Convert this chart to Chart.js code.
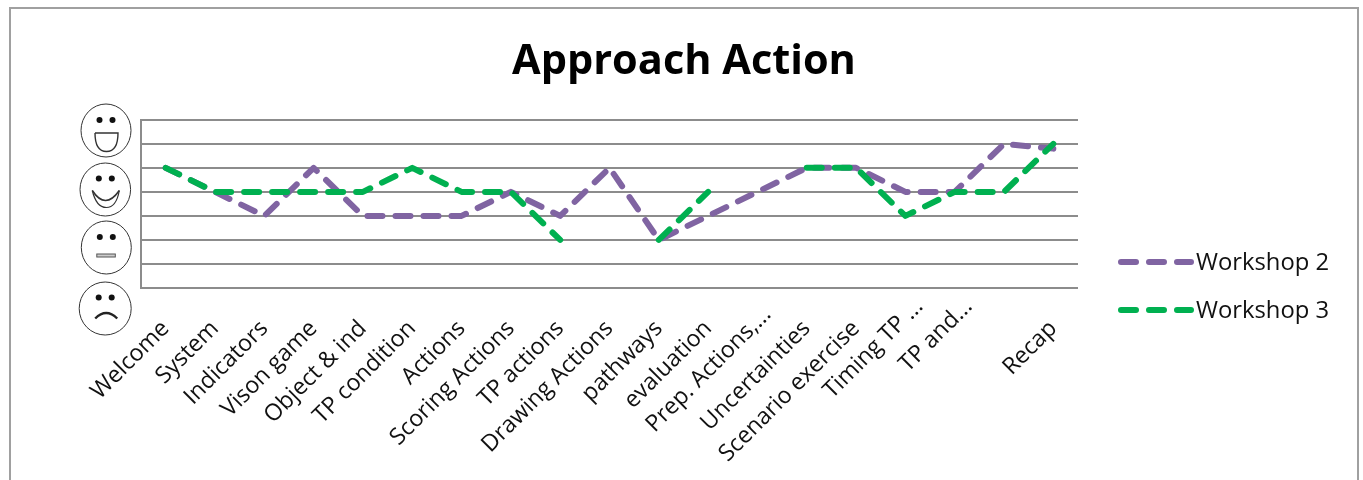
<!DOCTYPE html>
<html>
<head>
<meta charset="utf-8">
<title>Approach Action</title>
<script src="https://cdn.jsdelivr.net/npm/chart.js@4"></script>
<style>
    body { margin: 0; background: #fff; overflow: hidden; }
    #frame { position: absolute; left: 9px; top: 7px; width: 1346px; height: 500px; border: 2px solid #a0a0a0; }
    #myChart { position: absolute; left: 0; top: 0; }
</style>
</head>
<body>
<div id="frame"></div>
<canvas id="myChart" width="1363" height="480"></canvas>
<script>
const categories = ['Welcome', 'System', 'Indicators', 'Vison game', 'Object & ind', 'TP condition', 'Actions',
    'Scoring Actions', 'TP actions', 'Drawing Actions', 'pathways', 'evaluation', 'Prep. Actions,...',
    'Uncertainties', 'Scenario exercise', 'Timing TP ...', 'TP and...', '', 'Recap'];
const workshop2 = [5, 4, 3, 5, 3, 3, 3, 4, 3, 5, 2, 3, 4, 5, 5, 4, 4, 6, 5.8];
const workshop3 = [5, 4, 4, 4, 4, 5, 4, 4, 2, null, 2, 4, null, 5, 5, 3, 4, 4, 6];

const purple = '#8064A2';
const green = '#00B050';
const gridColor = '#8c8c8c';
const textColor = '#111';
const labelFont = '"Open Sans", sans-serif';

// smiley scale next to the y axis, happiest on top
function drawFace(ctx, cx, cy, rx, ry, eyeY, mouth) {
    ctx.save();
    ctx.translate(cx, cy);
    ctx.strokeStyle = '#333';
    ctx.lineWidth = 1;
    ctx.beginPath();
    ctx.ellipse(0, 0, rx, ry, 0, 0, Math.PI * 2);
    ctx.stroke();
    ctx.fillStyle = '#111';
    [-6.5, 6.5].forEach(function (x) {
        ctx.beginPath();
        ctx.arc(x, eyeY, 3, 0, Math.PI * 2);
        ctx.fill();
    });
    mouth(ctx);
    ctx.restore();
}

const facesPlugin = {
    id: 'faces',
    afterDraw: function (chart) {
        const ctx = chart.ctx;
        drawFace(ctx, 106, 130.5, 25, 26.5, -10.5, function (c) {
            c.lineWidth = 1.4;
            c.beginPath();
            c.moveTo(-11, 2.5);
            c.lineTo(12, 2.5);
            c.bezierCurveTo(12, 15, 8, 21, 0.5, 21);
            c.bezierCurveTo(-7, 21, -11, 15, -11, 2.5);
            c.stroke();
        });
        drawFace(ctx, 105.3, 189.5, 25.3, 26.5, -11, function (c) {
            c.lineWidth = 1.2;
            c.beginPath();
            c.moveTo(-13, 1);
            c.quadraticCurveTo(-9, 18, 1, 18);
            c.quadraticCurveTo(11, 18, 14, 1);
            c.stroke();
            c.lineWidth = 1.6;
            c.beginPath();
            c.moveTo(-13, 1);
            c.quadraticCurveTo(0, 21, 14, 1);
            c.stroke();
        });
        drawFace(ctx, 106.3, 247.5, 25, 26.5, -10.5, function (c) {
            c.lineWidth = 1;
            c.strokeStyle = '#555';
            c.fillStyle = '#ccc';
            c.fillRect(-9.5, 6.5, 18.5, 3);
            c.strokeRect(-9.5, 6.5, 18.5, 3);
        });
        drawFace(ctx, 105.2, 308.5, 26, 26.5, -11, function (c) {
            c.lineWidth = 2.4;
            c.strokeStyle = '#222';
            c.beginPath();
            c.moveTo(-10, 10);
            c.quadraticCurveTo(1, -1, 12, 10);
            c.stroke();
        });
    }
};

// legend rows with long dashed samples and the text close to them
const dashedLegendPlugin = {
    id: 'dashedLegend',
    afterDraw: function (chart) {
        const ctx = chart.ctx;
        const rowY = [262, 310];
        ctx.save();
        chart.data.datasets.forEach(function (ds, i) {
            ctx.strokeStyle = ds.borderColor;
            ctx.lineWidth = ds.borderWidth;
            ctx.lineCap = ds.borderCapStyle;
            ctx.setLineDash(ds.borderDash);
            ctx.beginPath();
            ctx.moveTo(1121, rowY[i]);
            ctx.lineTo(1191, rowY[i]);
            ctx.stroke();
            ctx.setLineDash([]);
            ctx.fillStyle = textColor;
            ctx.font = '23.8px ' + labelFont;
            ctx.textBaseline = 'middle';
            ctx.textAlign = 'left';
            ctx.fillText(ds.label, 1196, rowY[i] + 1);
        });
        ctx.restore();
    }
};

// labels cut with dots sit further along their diagonal than the others
const dottedLabelPlugin = {
    id: 'dottedLabels',
    beforeDraw: function (chart) {
        chart.scales.x.getLabelItems().forEach(function (item) {
            if (item.label.endsWith('...')) {
                const isPrep = item.label.startsWith('Prep');
                item.options.translation[0] += isPrep ? 10 : 14;
                item.options.translation[1] -= isPrep ? 14 : 22;
            }
        });
    }
};

const ctx = document.getElementById('myChart').getContext('2d');
const myChart = new Chart(ctx, {
    type: 'line',
    plugins: [facesPlugin, dashedLegendPlugin, dottedLabelPlugin],
    data: {
        labels: categories,
        datasets: [{
            label: 'Workshop 2',
            data: workshop2,
            borderColor: purple,
            backgroundColor: purple,
            borderWidth: 6,
            borderDash: [15, 13],
            borderCapStyle: 'round',
            borderJoinStyle: 'round',
            pointRadius: 0,
            tension: 0,
            order: 2
        }, {
            label: 'Workshop 3',
            data: workshop3,
            borderColor: green,
            backgroundColor: green,
            borderWidth: 6,
            borderDash: [15, 13],
            borderCapStyle: 'round',
            borderJoinStyle: 'round',
            pointRadius: 0,
            tension: 0,
            order: 1
        }]
    },
    options: {
        responsive: false,
        animation: false,
        layout: { padding: { left: 5, right: 0, top: 0, bottom: 0 } },
        scales: {
            x: {
                offset: true,
                grid: { display: false },
                border: { display: false },
                ticks: {
                    autoSkip: false,
                    minRotation: 45,
                    maxRotation: 45,
                    padding: 19,
                    color: textColor,
                    font: { family: labelFont, size: 23.2 }
                },
                afterFit: function (scale) { scale.height = 192; }
            },
            y: {
                min: 0,
                max: 7,
                grid: { color: gridColor, lineWidth: 2, drawTicks: false },
                border: { color: gridColor, width: 2 },
                ticks: { display: false, stepSize: 1 },
                afterFit: function (scale) { scale.width = 136; }
            },
            // empty gutter that keeps the plot clear of the legend rows
            gutter: {
                position: 'right',
                grid: { display: false },
                border: { display: false },
                ticks: { display: false },
                afterFit: function (scale) { scale.width = 285; }
            }
        },
        plugins: {
            legend: { display: false },
            tooltip: { enabled: false },
            title: {
                display: true,
                text: 'Approach Action',
                color: '#000',
                padding: { top: 37, bottom: 33 },
                font: { family: labelFont, size: 41.5, weight: '700', lineHeight: 1.2 }
            }
        }
    }
});
</script>
</body>
</html>
